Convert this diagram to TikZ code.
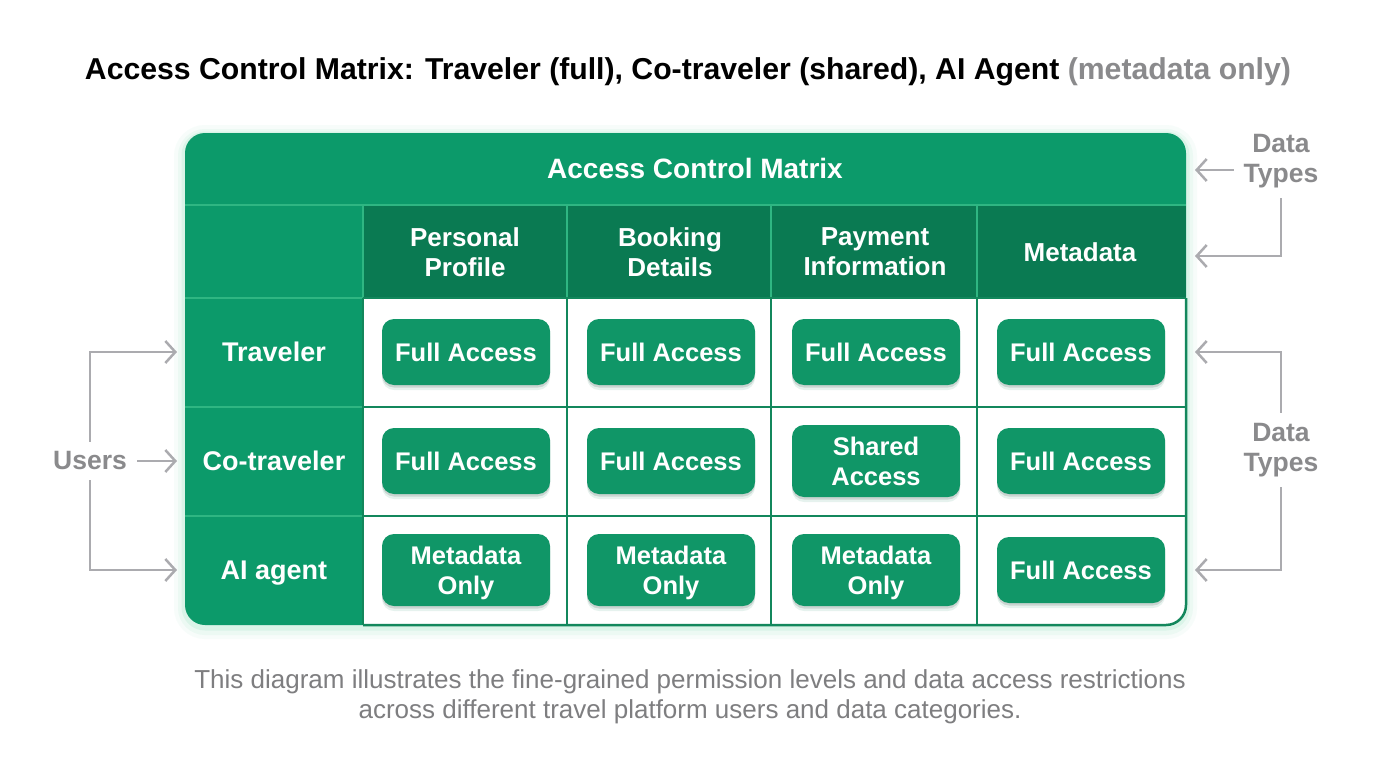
\documentclass[tikz,border=0pt]{standalone}
\usepackage{fontspec}
\setmainfont{Liberation Sans}
\usepackage{tikz}
\usetikzlibrary{arrows.meta,positioning,shadows}

\definecolor{acmgreen}{HTML}{0C9A6A}
\definecolor{acmdark}{HTML}{0A7A52}
\definecolor{acmlight}{HTML}{2FB682}
\definecolor{acmgrid}{HTML}{13875C}
\definecolor{acmpill}{HTML}{109667}
\definecolor{acmglow}{HTML}{3CC98F}
\definecolor{notegray}{HTML}{8A8A8C}
\definecolor{wiregray}{HTML}{ABABAF}
\definecolor{capgray}{HTML}{7E7E80}

\begin{document}
\begin{tikzpicture}[x=1pt,y=-1pt,node distance=205pt,
    pill/.style={rounded corners=12pt,fill=acmpill,text=white,align=center,
      minimum width=168pt,minimum height=66pt,inner sep=3pt,text depth=0pt,
      font=\fontsize{25.5}{30}\selectfont\bfseries,
      drop shadow={shadow xshift=0pt,shadow yshift=-5pt,fill=acmgrid,opacity=0.10},
      drop shadow={shadow xshift=0pt,shadow yshift=-2.5pt,fill=black,opacity=0.12}},
    tallpill/.style={pill,minimum height=72pt},
    rowhead/.style={text=white,text depth=0pt,font=\fontsize{27}{30}\selectfont\bfseries},
    colhead/.style={text=white,align=center,font=\fontsize{26}{30}\selectfont\bfseries},
    note/.style={text=notegray,align=center,inner sep=10pt,font=\fontsize{26.5}{30}\selectfont\bfseries},
    conn/.style={draw=wiregray,line width=2.5pt,-{Straight Barb[length=10pt,width=22pt]}},
    glow/.style={acmglow,rounded corners=20pt},
    lightline/.style={acmlight,line width=2.5pt},
    gridline/.style={acmgrid,line width=2.5pt}]

  \useasboundingbox[fill=white] (0,0) rectangle (1376,768);

  % heading
  \node[font=\fontsize{30.2}{34}\selectfont\bfseries] (heading) at (688,72)
    {Access Control Matrix: Traveler (full), Co-traveler (shared), AI Agent \textcolor{notegray}{(metadata only)}};

  % frame of the matrix
  \draw[glow,line width=22pt,opacity=0.04] (185,136) rectangle (1186,628);
  \draw[glow,line width=14pt,opacity=0.06] (185,136) rectangle (1186,628);
  \draw[glow,line width=7pt,opacity=0.10] (185,135) rectangle (1186,627);
  \fill[acmgreen,rounded corners=20pt] (185,133) rectangle (1186,625);
  \begin{scope}
    \clip[rounded corners=20pt] (185,133) rectangle (1186,625);
    \fill[acmdark] (363,205) rectangle (1186,298);
    \fill[white] (363,298) rectangle (1186,625);
  \end{scope}

  % grid
  \draw[lightline] (185,205) -- (1186,205);
  \draw[lightline] (363,205) -- (363,298) (567,205) -- (567,298)
    (771,205) -- (771,298) (977,205) -- (977,298);
  \draw[lightline] (185,298) -- (363,298) (185,407) -- (363,407) (185,516) -- (363,516);
  \draw[gridline] (363,298) -- (1186,298) (363,407) -- (1186,407) (363,516) -- (1186,516);
  \draw[gridline] (363,298) -- (363,625) (567,298) -- (567,625)
    (771,298) -- (771,625) (977,298) -- (977,625);
  \draw[gridline,rounded corners=20pt] (1186,298) -- (1186,625) -- (363,625);

  \node[colhead,font=\fontsize{28}{30}\selectfont\bfseries] (acm) at (695,168) {Access Control Matrix};

  % data types
  \node[colhead] (hpers) at (465,252) {Personal\\Profile};
  \node[colhead] (hbook) [right of=hpers] {Booking\\Details};
  \node[colhead] (hpay) [right of=hbook] {Payment\\Information};
  \node[colhead] (hmeta) [right of=hpay] {Metadata};

  % users
  \node[rowhead] (trav) at (274,352) {Traveler};
  \node[rowhead] (cotrav) at (274,461) {Co-traveler};
  \node[rowhead] (aiag) at (274,570) {AI agent};

  % permissions
  \node[pill] (tr1) at (466,352) {Full Access};
  \node[pill] (tr2) [right of=tr1] {Full Access};
  \node[pill] (tr3) [right of=tr2] {Full Access};
  \node[pill] (tr4) [right of=tr3] {Full Access};

  \node[pill] (co1) at (466,461) {Full Access};
  \node[pill] (co2) [right of=co1] {Full Access};
  \node[tallpill] (co3) [right of=co2] {Shared\\Access};
  \node[pill] (co4) [right of=co3] {Full Access};

  \node[tallpill] (ai1) at (466,570) {Metadata\\Only};
  \node[tallpill] (ai2) [right of=ai1] {Metadata\\Only};
  \node[tallpill] (ai3) [right of=ai2] {Metadata\\Only};
  \node[pill] (ai4) [right of=ai3] {Full Access};

  % side notes
  \node[note] (users) at (90,461) {Users};
  \node[note] (typesA) at (1281,161) {Data\\Types};
  \node[note] (typesB) at (1281,450) {Data\\Types};

  \coordinate (uT) at (177,352);
  \coordinate (uC) at (177,461);
  \coordinate (uA) at (177,570);
  \coordinate (rTitle) at (1195,170);
  \coordinate (rHead) at (1195,256);
  \coordinate (rTrav) at (1195,352);
  \coordinate (rAI) at (1195,570);

  \draw[conn] (users.east) -- (uC);
  \draw[conn] (users.north) |- (uT);
  \draw[conn] (users.south) |- (uA);
  \draw[conn] (typesA.west |- rTitle) -- (rTitle);
  \draw[conn] (typesA.south) |- (rHead);
  \draw[conn] (typesB.north) |- (rTrav);
  \draw[conn] (typesB.south) |- (rAI);

  % caption
  \node[text=capgray,align=center,font=\fontsize{26}{30}\selectfont] (caption) at (690,697)
    {This diagram illustrates the fine-grained permission levels and data access restrictions\\
     across different travel platform users and data categories.};
\end{tikzpicture}
\end{document}
